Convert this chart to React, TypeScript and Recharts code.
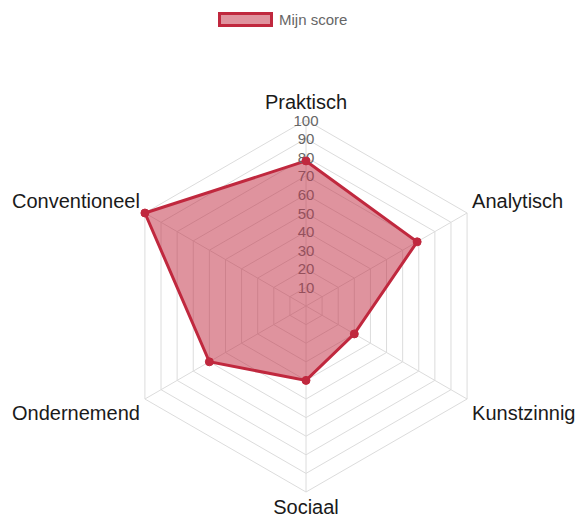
import React from 'react';
import { RadarChart, Radar, PolarGrid, PolarAngleAxis, PolarRadiusAxis, Legend } from 'recharts';

const categories = ['Praktisch', 'Analytisch', 'Kunstzinnig', 'Sociaal', 'Ondernemend', 'Conventioneel'];
const scores = [78, 69, 30, 40, 60, 100];
const radiusTicks = [0, 10, 20, 30, 40, 50, 60, 70, 80, 90, 100];
const seriesName = 'Mijn score';

const data = categories.map((c, i) => ({ category: c, score: scores[i] }));

const CX = 306;
const CY = 306;
const R = 186;
const STROKE = 'rgb(192, 40, 62)';
const FILL = 'rgba(192, 40, 62, 0.5)';
const FONT = '"Liberation Sans", Arial, sans-serif';

const AngleTick = (props: any) => {
  const { payload } = props;
  const ang = (payload.coordinate * Math.PI) / 180;
  const cos = Math.cos(ang);
  const sin = Math.sin(ang);
  const vx = CX + R * cos;
  const vy = CY - R * sin;
  let x = vx;
  let y = vy;
  let anchor: 'start' | 'middle' | 'end' = 'middle';
  if (Math.abs(cos) < 0.01) {
    y = sin > 0 ? vy - 18 : vy + 15;
  } else {
    anchor = cos > 0 ? 'start' : 'end';
    x = cos > 0 ? vx + 5 : vx - 5;
    y = sin > 0 ? vy - 12 : vy + 14;
  }
  return (
    <text x={x} y={y} textAnchor={anchor} dominantBaseline="central" fontSize={20} fill="#1a1a1a" fontFamily={FONT}>
      {payload.value}
    </text>
  );
};

const RadiusTick = (props: any) => {
  const { payload, x, y } = props;
  if (payload.value === 0) return null;
  // labels lying under the translucent area look tinted in the reference
  const covered = payload.value < scores[0];
  return (
    <text x={x} y={y} textAnchor="middle" dominantBaseline="central" fontSize={15} fill={covered ? '#94505c' : '#666'} fontFamily={FONT}>
      {payload.value}
    </text>
  );
};

const LegendContent = () => (
  <div style={{ display: 'flex', alignItems: 'center', justifyContent: 'flex-start', paddingLeft: 218, fontFamily: FONT, fontSize: 15, color: '#666' }}>
    <span style={{ display: 'inline-block', width: 49, height: 9, background: FILL, border: `3px solid ${STROKE}`, marginRight: 6 }} />
    <span>{seriesName}</span>
  </div>
);

export default function App() {
  return (
    <>
      <style>{'body{margin:0;overflow:hidden}'}</style>
      <RadarChart width={580} height={520} data={data} cx={CX} cy={CY} outerRadius={R} margin={{ top: 0, right: 0, bottom: 0, left: 0 }}>
        <Legend verticalAlign="top" content={<LegendContent />} wrapperStyle={{ position: 'absolute', top: 11, left: 0, width: 580 }} />
        <PolarGrid gridType="polygon" stroke="#dcdcdc" strokeWidth={1} />
        <PolarAngleAxis dataKey="category" tick={<AngleTick />} tickLine={false} axisLine={false} />
        <PolarRadiusAxis angle={90} domain={[0, 100]} ticks={radiusTicks as any} tickCount={11} axisLine={false} tick={<RadiusTick />} />
        <Radar
          name={seriesName}
          dataKey="score"
          stroke={STROKE}
          strokeWidth={3}
          fill={FILL}
          fillOpacity={1}
          dot={{ r: 4, fill: STROKE, stroke: STROKE, strokeWidth: 1 }}
          isAnimationActive={false}
        />
      </RadarChart>
    </>
  );
}
